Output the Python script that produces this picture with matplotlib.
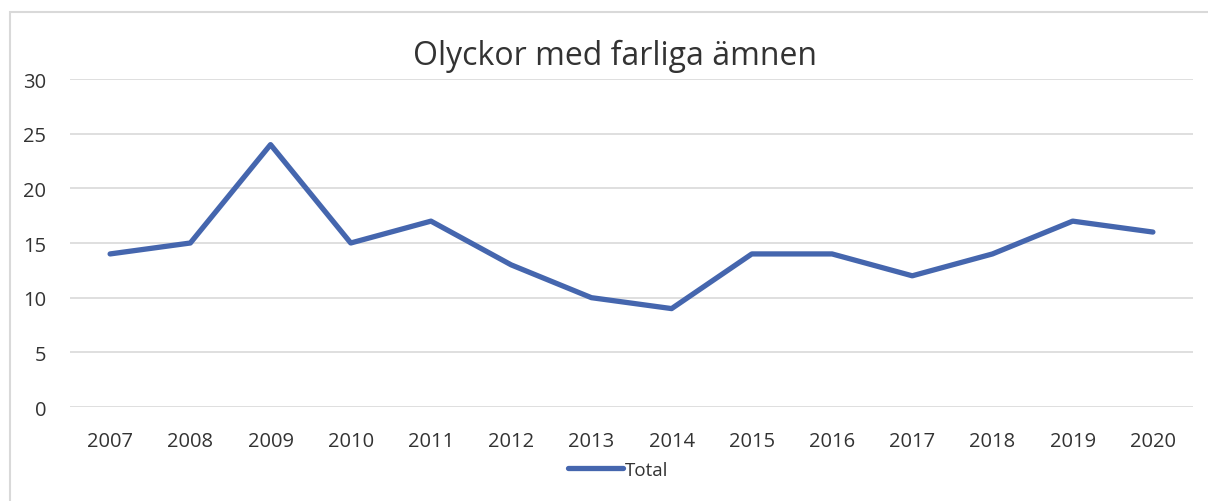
import matplotlib.pyplot as plt
from matplotlib.patches import Rectangle

years = ["2007", "2008", "2009", "2010", "2011", "2012", "2013",
         "2014", "2015", "2016", "2017", "2018", "2019", "2020"]
total = [14, 15, 24, 15, 17, 13, 10, 9, 14, 14, 12, 14, 17, 16]
yticks = [0, 5, 10, 15, 20, 25, 30]

plt.rcParams['font.family'] = ['Open Sans', 'DejaVu Sans']

fig = plt.figure(figsize=(12.08, 5.02), dpi=100)

# outer chart frame (cut off on the right and bottom)
fig.patches.append(Rectangle((10 / 1208, -0.1), 1.2, 1 - 13 / 502 + 0.1,
                             transform=fig.transFigure, fill=False,
                             edgecolor='#d9d9d9', linewidth=1.5))

ax = fig.add_axes([70 / 1208, 1 - 408 / 502, 1123 / 1208, 328 / 502])
x = range(len(years))
ax.plot(x, total, color='#4566ae', linewidth=3.8, solid_capstyle='round',
        solid_joinstyle='round', label='Total')

ax.set_xlim(-0.5, len(years) - 0.5)
ax.set_ylim(0, 30)
ax.set_yticks(yticks)
ax.set_xticks(list(x))
ax.set_xticklabels(years)
ax.grid(axis='y', color='#d9d9d9', linewidth=1.2)
ax.set_axisbelow(True)
for s in ax.spines.values():
    s.set_visible(False)
ax.tick_params(length=0, labelsize=14.5, colors='#333333')
ax.tick_params(axis='y', pad=17)
ax.tick_params(axis='x', pad=17)

fig.text(615 / 1208, 1 - 56 / 502, "Olyckor med farliga ämnen", ha='center',
         va='center', fontsize=23, color='#333333')

fig.legend(loc='center', bbox_to_anchor=(618 / 1208, 1 - 471 / 502),
           frameon=False, fontsize=13.5, handlelength=2.9, handletextpad=0.1,
           labelcolor='#333333')

fig.savefig('out.png', dpi=100)
